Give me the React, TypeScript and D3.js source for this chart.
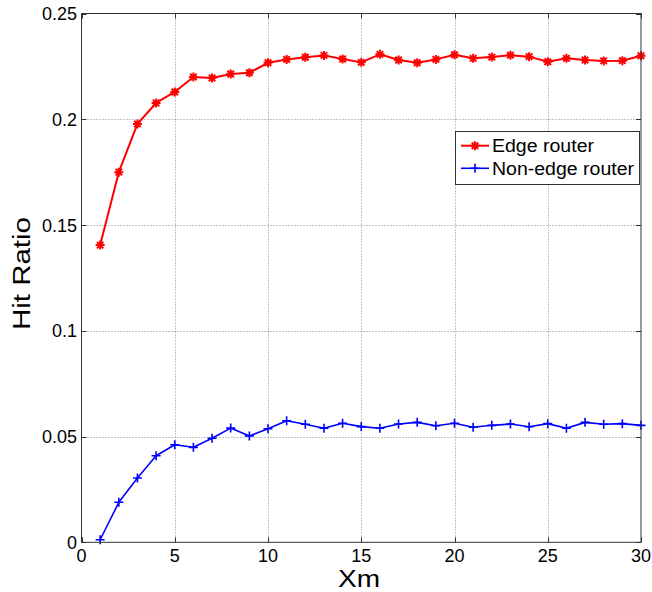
import React from "react";
import * as d3 from "d3";

// Xm values (1..30) and hit ratio for each router type
const xm = [
  1, 2, 3, 4, 5, 6, 7, 8, 9, 10, 11, 12, 13, 14, 15, 16, 17, 18, 19, 20, 21,
  22, 23, 24, 25, 26, 27, 28, 29, 30,
];
const edgeRouter = [
  0.1405, 0.175, 0.1978, 0.2077, 0.2129, 0.22, 0.2195, 0.2214, 0.222, 0.2267,
  0.2283, 0.2293, 0.2302, 0.2285, 0.2269, 0.2307, 0.228, 0.2267, 0.2283,
  0.2305, 0.2288, 0.2294, 0.2303, 0.2296, 0.2272, 0.2288, 0.228, 0.2276,
  0.2277, 0.23,
];
const nonEdgeRouter = [
  0.0012, 0.0189, 0.0304, 0.0409, 0.0461, 0.0449, 0.0492, 0.054, 0.0503,
  0.0537, 0.0575, 0.0558, 0.0539, 0.0563, 0.0547, 0.0539, 0.0559, 0.0567,
  0.0551, 0.0563, 0.0544, 0.0553, 0.0559, 0.0546, 0.0561, 0.0539, 0.0567,
  0.0558, 0.0561, 0.0553,
];
const xTicks = [0, 5, 10, 15, 20, 25, 30];
const yTicks = [0, 0.05, 0.1, 0.15, 0.2, 0.25];
const yTickLabels = ["0", "0.05", "0.1", "0.15", "0.2", "0.25"];
const seriesNames = ["Edge router", "Non-edge router"];

const W = 652;
const H = 592;
const FONT = "'Liberation Sans', Arial, Helvetica, sans-serif";

const left = 81.5;
const right = 641;
const top = 13.5;
const bottom = 542.3;

const x = d3.scaleLinear().domain([0, 30]).range([left, right]);
const y = d3.scaleLinear().domain([0, 0.25]).range([bottom, top]);

function asteriskPath(cx: number, cy: number, r: number) {
  const d = r * 0.72;
  return (
    `M${cx - r},${cy}L${cx + r},${cy}` +
    `M${cx},${cy - r}L${cx},${cy + r}` +
    `M${cx - d},${cy - d}L${cx + d},${cy + d}` +
    `M${cx - d},${cy + d}L${cx + d},${cy - d}`
  );
}

function plusPath(cx: number, cy: number, r: number) {
  return `M${cx - r},${cy}L${cx + r},${cy}M${cx},${cy - r}L${cx},${cy + r}`;
}

export default function App() {
  const line = d3
    .line<number>()
    .x((_, i) => x(xm[i]))
    .y((v) => y(v));

  const tickLen = 5;
  const legX = 455;
  const legY = 131;
  const legW = 185;
  const legH = 53;
  const rowY = [145.7, 168.3];

  return (
    <svg
      width={W}
      height={H}
      style={{ position: "absolute", left: 0, top: 0, display: "block" }}
      fontFamily={FONT}
    >
      <rect x={0} y={0} width={W} height={H} fill="#fff" />

      {/* grid */}
      <g stroke="#8a8a8a" strokeWidth={1} strokeDasharray="1,2" fill="none">
        {xTicks.slice(1, -1).map((t) => (
          <line key={"gx" + t} x1={Math.round(x(t)) + 0.5} x2={Math.round(x(t)) + 0.5} y1={top} y2={bottom} />
        ))}
        {yTicks.slice(1, -1).map((t) => (
          <line key={"gy" + t} x1={left} x2={right} y1={Math.round(y(t)) + 0.5} y2={Math.round(y(t)) + 0.5} />
        ))}
      </g>

      {/* ticks on all four sides, pointing inward */}
      <g stroke="#333" strokeWidth={1}>
        {xTicks.map((t) => {
          const px = Math.round(x(t)) + 0.5;
          return (
            <g key={"tx" + t}>
              <line x1={px} x2={px} y1={bottom} y2={bottom - tickLen} />
              <line x1={px} x2={px} y1={top} y2={top + tickLen} />
            </g>
          );
        })}
        {yTicks.map((t) => {
          const py = Math.round(y(t)) + 0.5;
          return (
            <g key={"ty" + t}>
              <line x1={left} x2={left + tickLen} y1={py} y2={py} />
              <line x1={right} x2={right - tickLen} y1={py} y2={py} />
            </g>
          );
        })}
      </g>

      {/* series */}
      <path d={line(edgeRouter) || ""} fill="none" stroke="#ff0000" strokeWidth={2} strokeLinejoin="round" />
      <g stroke="#ff0000" strokeWidth={2} fill="none">
        {edgeRouter.map((v, i) => (
          <path key={"e" + i} d={asteriskPath(x(xm[i]), y(v), 4.5)} />
        ))}
      </g>
      <path d={line(nonEdgeRouter) || ""} fill="none" stroke="#0000ff" strokeWidth={1.6} strokeLinejoin="round" />
      <g stroke="#0000ff" strokeWidth={1.6} fill="none">
        {nonEdgeRouter.map((v, i) => (
          <path key={"n" + i} d={plusPath(x(xm[i]), y(v), 4.5)} />
        ))}
      </g>

      {/* axes box */}
      <rect x={left} y={top} width={right - left} height={bottom - top} fill="none" stroke="#333" strokeWidth={1} />

      {/* tick labels */}
      <g fontSize={18} fill="#000">
        {xTicks.map((t) => (
          <text key={"lx" + t} x={x(t)} y={bottom + 19.5} textAnchor="middle">
            {String(t)}
          </text>
        ))}
        {yTicks.map((t, i) => (
          <text key={"ly" + t} x={77} y={y(t) + 6.5} textAnchor="end">
            {yTickLabels[i]}
          </text>
        ))}
      </g>

      {/* axis titles */}
      <text x={359} y={587} fontSize={23} textAnchor="middle" textLength={42} lengthAdjust="spacingAndGlyphs">
        Xm
      </text>
      <text
        transform={`translate(29.5,273.5) rotate(-90)`}
        fontSize={23}
        textAnchor="middle"
        textLength={113}
        lengthAdjust="spacingAndGlyphs"
      >
        Hit Ratio
      </text>

      {/* legend */}
      <rect x={legX + 0.5} y={legY + 0.5} width={legW - 1} height={legH} fill="#fff" stroke="#333" strokeWidth={1} />
      <line x1={461} x2={489} y1={rowY[0]} y2={rowY[0]} stroke="#ff0000" strokeWidth={2} />
      <path d={asteriskPath(475, rowY[0], 4.5)} stroke="#ff0000" strokeWidth={2} fill="none" />
      <line x1={461} x2={489} y1={rowY[1]} y2={rowY[1]} stroke="#0000ff" strokeWidth={1.6} />
      <path d={plusPath(475, rowY[1], 4.5)} stroke="#0000ff" strokeWidth={1.6} fill="none" />
      <text x={492} y={rowY[0] + 6.5} fontSize={18} textLength={102} lengthAdjust="spacingAndGlyphs">
        {seriesNames[0]}
      </text>
      <text x={492} y={rowY[1] + 6.5} fontSize={18} textLength={142} lengthAdjust="spacingAndGlyphs">
        {seriesNames[1]}
      </text>
    </svg>
  );
}
